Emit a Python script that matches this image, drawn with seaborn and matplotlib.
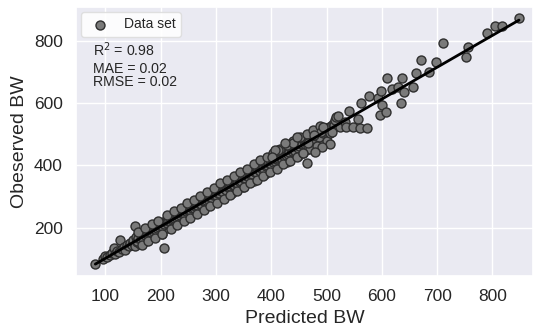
import matplotlib
matplotlib.use("Agg")
import matplotlib.pyplot as plt
import seaborn as sns
import pandas as pd

# ---- data ----
predicted_low = [82, 95, 100, 104, 108, 112, 115, 118, 121, 124, 127, 130, 133, 136,
                 139, 142, 145, 148, 150, 154]
observed_low = [83, 100, 110, 104, 112, 118, 134, 116, 126, 120, 160, 131, 138, 128,
                145, 140, 150, 144, 152, 206]

predicted_mid = [151, 153, 156, 158, 161, 163, 166, 168,
                 171, 173, 175, 177, 180, 182, 185, 188,
                 190, 192, 195, 197, 200, 202, 204, 206, 208,
                 210, 212, 214, 216, 219, 221, 224, 226, 228,
                 230, 232, 234, 236, 239, 241, 243, 245, 248,
                 250, 252, 254, 256, 258, 261, 263, 265, 268,
                 270, 272, 274, 276, 279, 281, 283, 285, 288,
                 290, 292, 294, 296, 298, 300, 302, 305, 308,
                 310, 312, 314, 316, 318, 320, 322, 324, 327, 329,
                 330, 332, 334, 336, 338, 340, 342, 344, 347, 349,
                 350, 352, 354, 356, 358, 360, 362, 364, 367, 369,
                 370, 372, 374, 376, 378, 380, 382, 384, 387, 389,
                 390, 392, 394, 396, 398, 400, 402, 404, 407, 409,
                 410, 412, 414, 416, 418, 420, 422, 424, 427, 429,
                 430, 432, 434, 436, 438, 442, 444, 448,
                 450, 452, 455, 460, 462, 468,
                 470, 473, 476, 480, 483, 486, 488, 497, 500, 503, 512, 515]
observed_mid = [160, 141, 170, 152, 165, 148, 180, 160,
                185, 158, 177, 195, 170, 190, 178, 200,
                182, 205, 190, 212, 196, 180, 215, 135, 202,
                225, 200, 218, 235, 210, 228, 240, 215, 232,
                250, 220, 240, 255, 232, 250, 262, 238, 255,
                270, 245, 262, 278, 250, 268, 285, 255, 275,
                290, 262, 282, 298, 270, 290, 305, 278, 295,
                312, 285, 300, 318, 290, 310, 325, 298, 315,
                332, 305, 322, 338, 310, 328, 345, 318, 335, 312,
                350, 325, 342, 358, 330, 348, 365, 338, 355, 330,
                370, 345, 362, 378, 350, 368, 385, 355, 375, 350,
                390, 365, 382, 398, 370, 388, 405, 375, 395, 372,
                410, 385, 402, 418, 390, 408, 425, 395, 415, 392,
                430, 405, 420, 438, 410, 428, 445, 415, 435, 412,
                450, 425, 442, 460, 432, 440, 455, 430,
                472, 445, 462, 475, 450, 485,
                460, 488, 470, 462, 490, 475, 505, 495, 515, 500, 520, 540]

predicted_fill = [157, 159, 164, 167, 169, 172, 176, 179, 183, 186, 189, 191, 194, 198,
                  201, 203, 207, 209, 211, 213, 217, 220, 222, 225, 227, 229, 231, 235,
                  237, 240, 242, 246, 249, 251, 253, 255, 257, 260, 262, 264, 266, 269,
                  271, 273, 275, 278, 280, 282, 284, 287, 289, 291, 293, 295, 297, 299,
                  301, 303, 306, 309, 311, 313, 315, 317, 319, 321, 323, 326, 328, 331,
                  333, 335, 337, 339, 341, 343, 346, 348, 351, 353, 355, 357, 359, 361,
                  363, 366, 368, 371, 373, 375, 377, 379, 381, 383, 386, 388, 391, 393,
                  395, 397, 399, 401, 403, 406, 408, 411, 413, 415, 417, 419, 421, 423,
                  426, 428, 431, 433, 435, 437, 439, 441, 443, 447, 449, 451, 453, 456,
                  459, 461, 463, 465, 467, 469, 472, 474, 477, 481, 484, 487, 489, 493,
                  496, 499, 502, 505, 508, 511, 514, 516]
observed_fill = [158, 166, 163, 170, 168, 176, 178, 186, 186, 190, 193, 192, 200, 202,
                 205, 206, 210, 218, 214, 222, 220, 224, 226, 230, 236, 232, 238, 242,
                 246, 244, 246, 252, 258, 256, 257, 265, 262, 262, 270, 274, 272, 280,
                 276, 276, 288, 284, 286, 288, 296, 290, 300, 298, 296, 305, 308, 305,
                 306, 312, 310, 318, 318, 315, 328, 325, 322, 332, 330, 333, 340, 338,
                 338, 350, 345, 342, 356, 348, 350, 362, 360, 358, 372, 365, 362, 376,
                 370, 372, 382, 380, 378, 392, 385, 382, 398, 390, 392, 402, 398, 402,
                 412, 405, 404, 418, 410, 414, 422, 420, 424, 430, 425, 422, 438, 430,
                 435, 444, 438, 444, 452, 445, 452, 460, 448, 462, 455, 462, 470, 468,
                 480, 470, 482, 478, 462, 488, 480, 492, 485, 495, 500, 492, 510, 505,
                 512, 520, 515, 525, 528, 532, 530, 545]

predicted_spread = [160, 166, 172, 178, 184, 190, 196, 202, 212, 218, 224, 230, 236, 242,
                    248, 254, 260, 266, 272, 278, 284, 290, 296, 302, 308, 314, 320, 326,
                    332, 338, 344, 350, 356, 362, 368, 374, 380, 386, 392, 398, 404, 410,
                    416, 422, 428, 434, 440, 446, 452, 458, 464, 470, 476, 482, 488, 500]
observed_spread = [186, 145, 198, 156, 210, 168, 222, 180, 240, 196, 252, 208, 264, 220,
                   278, 232, 290, 244, 302, 256, 316, 268, 328, 280, 342, 292, 354, 304,
                   366, 318, 378, 330, 390, 342, 404, 354, 416, 366, 428, 378, 440, 390,
                   452, 404, 466, 414, 478, 426, 490, 440, 502, 452, 514, 462, 526, 478]

predicted_high = [490, 494, 506, 509, 478, 466, 506, 492, 479, 458, 464, 440, 446,
                  425, 413, 407, 401,
                  518, 520, 524, 533, 536, 541, 547, 557, 560, 573, 562, 577, 593,
                  596, 600, 608, 598, 610, 619, 629, 635, 637, 640, 657, 661, 670,
                  685, 698, 711, 753, 755, 790, 805, 818, 848]
observed_high = [508, 524, 503, 508, 498, 471, 469, 460, 444, 439, 407, 471, 492,
                 471, 449, 449, 428,
                 557, 559, 524, 540, 524, 576, 524, 551, 519, 520, 602, 624, 618,
                 562, 594, 573, 640, 680, 645, 651, 600, 680, 636, 653, 696, 740,
                 700, 732, 793, 748, 782, 825, 849, 849, 873]

x_ticks = [100, 200, 300, 400, 500, 600, 700, 800]
y_ticks = [200, 400, 600, 800]

df = pd.DataFrame({
    "Predicted BW": predicted_low + predicted_mid + predicted_fill
                    + predicted_spread + predicted_high,
    "Obeserved BW": observed_low + observed_mid + observed_fill
                    + observed_spread + observed_high,
})

# ---- style ----
sns.set_theme(style="darkgrid")
plt.rcParams["font.family"] = ["Liberation Sans", "DejaVu Sans"]

fig, ax = plt.subplots(figsize=(5.35, 3.31), dpi=100)
fig.subplots_adjust(left=0.142, right=0.996, top=0.979, bottom=0.166)

sns.regplot(data=df, x="Predicted BW", y="Obeserved BW", ax=ax, ci=None,
            label="Data set",
            scatter_kws=dict(s=42, color="#7a7a7a", edgecolor="#2e2e2e",
                             linewidths=1.0, alpha=1.0, zorder=2),
            line_kws=dict(color="black", lw=2, zorder=3))

ax.set_xlim(47, 873)
ax.set_ylim(44, 910)
ax.set_xticks(x_ticks)
ax.set_yticks(y_ticks)
ax.tick_params(axis="both", labelsize=12.5, colors="#262626")
ax.set_xlabel("Predicted BW", fontsize=14, color="#262626")
ax.set_ylabel("Obeserved BW", fontsize=14, color="#262626")

ax.legend(loc="upper left", fontsize=10, frameon=True, facecolor="white",
          edgecolor="#dddddd", framealpha=0.9, borderaxespad=0.35,
          handletextpad=0.7)

ax.text(0.037, 0.818, "R$^2$ = 0.98", transform=ax.transAxes, fontsize=10.2,
        va="baseline", ha="left", color="#262626")
ax.text(0.037, 0.755, "MAE = 0.02", transform=ax.transAxes, fontsize=10.2,
        va="baseline", ha="left", color="#262626")
ax.text(0.037, 0.706, "RMSE = 0.02", transform=ax.transAxes, fontsize=10.2,
        va="baseline", ha="left", color="#262626")

fig.savefig("out.png", dpi=100)
